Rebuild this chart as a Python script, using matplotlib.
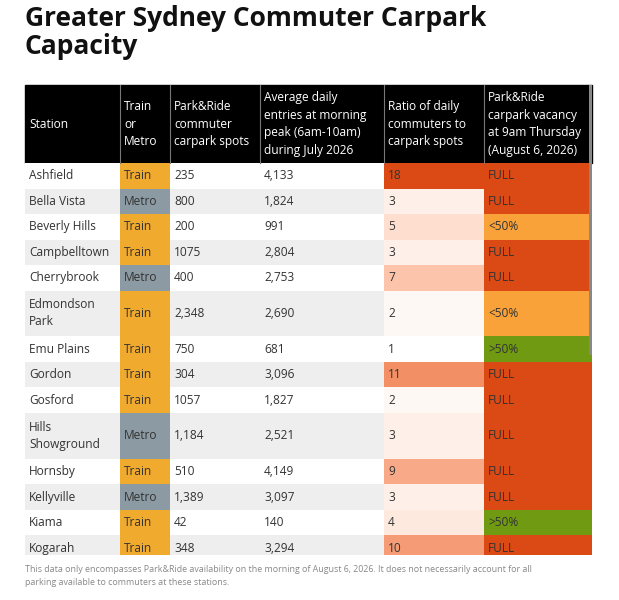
import matplotlib
matplotlib.use("Agg")
import matplotlib.pyplot as plt
from matplotlib.patches import Rectangle
from matplotlib.colors import LinearSegmentedColormap

stations = ["Ashfield", "Bella Vista", "Beverly Hills", "Campbelltown", "Cherrybrook",
            "Edmondson\nPark", "Emu Plains", "Gordon", "Gosford", "Hills\nShowground",
            "Hornsby", "Kellyville", "Kiama", "Kogarah"]
modes = ["Train", "Metro", "Train", "Train", "Metro", "Train", "Train", "Train", "Train",
         "Metro", "Train", "Metro", "Train", "Train"]
spots = ["235", "800", "200", "1075", "400", "2,348", "750", "304", "1057", "1,184",
         "510", "1,389", "42", "348"]
entries = ["4,133", "1,824", "991", "2,804", "2,753", "2,690", "681", "3,096", "1,827",
           "2,521", "4,149", "3,097", "140", "3,294"]
ratios = [18, 3, 5, 3, 7, 2, 1, 11, 2, 3, 9, 3, 4, 10]
vacancy = ["FULL", "FULL", "<50%", "FULL", "FULL", "<50%", ">50%", "FULL", "FULL",
           "FULL", "FULL", "FULL", ">50%", "FULL"]
headers = ["Station", "Train\nor\nMetro", "Park&Ride\ncommuter\ncarpark spots",
           "Average daily\nentries at morning\npeak (6am-10am)\nduring July 2026",
           "Ratio of daily\ncommuters to\ncarpark spots",
           "Park&Ride\ncarpark vacancy\nat 9am Thursday\n(August 6, 2026)"]

col_x = [25, 120, 170, 260, 384, 484, 592]
header_h = 78
row_h = 25.5
top = 85
clip_bottom = 555

mode_colors = {"Train": "#f0aa2e", "Metro": "#8c9ba3"}
vac_colors = {"FULL": "#db4a15", "<50%": "#f9a23a", ">50%": "#6f9a12"}
ratio_cmap = LinearSegmentedColormap.from_list(
    "r", ["#ffffff", "#fde6da", "#fbb99c", "#f28c62", "#ec7043", "#db4a15"])

plt.rcParams["font.family"] = ["Open Sans", "DejaVu Sans"]
fig = plt.figure(figsize=(6.19, 6.0), dpi=100)
ax = fig.add_axes([0, 0, 1, 1])
ax.set_xlim(0, 619)
ax.set_ylim(600, 0)
ax.axis("off")

fig.text(25 / 619, 1 - 5 / 600, "Greater Sydney Commuter Carpark\nCapacity",
         fontsize=19, fontweight="bold", va="top", ha="left", linespacing=1.05,
         color="#111111")

# header
ax.add_patch(Rectangle((col_x[0], top), col_x[-1] - col_x[0], header_h, color="black"))
for j, h in enumerate(headers):
    ax.text(col_x[j] + 4, top + header_h / 2, h, color="white", fontsize=8.6,
            va="center", ha="left", linespacing=1.45)
    if j > 0:
        ax.plot([col_x[j], col_x[j]], [top, top + header_h], color="#777777", lw=0.8)

clip = Rectangle((0, 0), 619, clip_bottom, transform=ax.transData)
y = top + header_h
for i, st in enumerate(stations):
    h = row_h * (1.8 if "\n" in st else 1)
    bg = "#eeeeee" if i % 2 else "white"
    cells = [bg, mode_colors[modes[i]], bg, bg, ratio_cmap((ratios[i] - 1) / 17),
             vac_colors[vacancy[i]]]
    texts = [st, modes[i], spots[i], entries[i], str(ratios[i]), vacancy[i]]
    for j in range(6):
        r = Rectangle((col_x[j], y), col_x[j + 1] - col_x[j], h, color=cells[j], lw=0)
        ax.add_patch(r)
        r.set_clip_path(clip)
        t = ax.text(col_x[j] + 4, y + h / 2, texts[j], fontsize=8.6, va="center",
                    ha="left", color="#333333", linespacing=1.4)
        t.set_clip_path(clip)
    y += h

ax.add_patch(Rectangle((589, top), 3, 270, color="#888888", lw=0))

fig.text(25 / 619, 1 - 576 / 600,
         "This data only encompasses Park&Ride availability on the morning of August 6, 2026. "
         "It does not necessarily account for all\nparking available to commuters at these stations.",
         fontsize=6.4, color="#888888", va="center", ha="left", linespacing=1.6)

fig.savefig("out.png", dpi=100)
